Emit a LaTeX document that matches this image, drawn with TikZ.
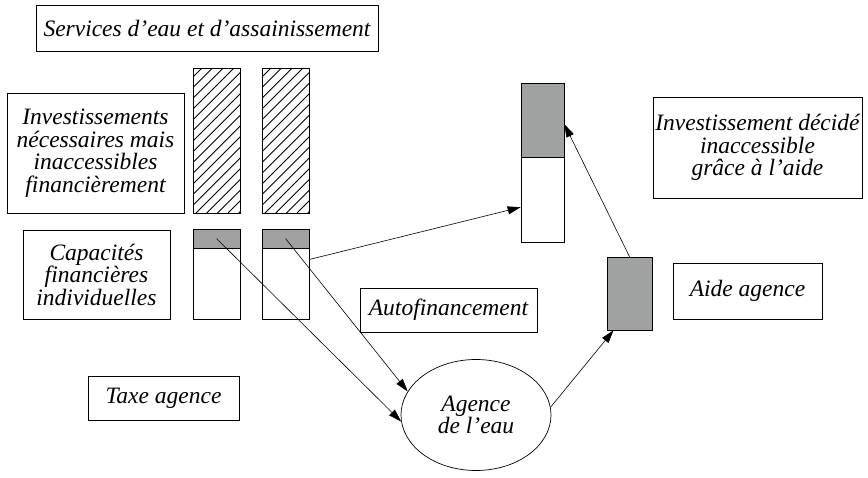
\documentclass[tikz,border=0pt]{standalone}
\usepackage{fontspec}
\setmainfont{Liberation Serif}
\usetikzlibrary{arrows.meta,shapes.geometric,calc}
\definecolor{barg}{RGB}{160,162,162}
\begin{document}
\begin{tikzpicture}[x=1pt,y=-1pt,
  lbl/.style={draw, line width=0.7pt, inner sep=0pt, align=center,
    font=\itshape\fontsize{23.5}{22.5}\selectfont},
  bar/.style={draw, line width=0.7pt, inner sep=0pt, rectangle},
  graybar/.style={bar, fill=barg},
  hatch/.style={bar, path picture={
    \foreach \k in {-16,...,5}{
      \draw[line width=0.9pt] ([xshift=\k*10.7pt+3pt]path picture bounding box.south west) -- ++(200pt,200pt);}}},
  arr/.style={line width=0.6pt, -{Triangle[length=13pt,width=8pt]}}
]
\useasboundingbox (0,0) rectangle (868,477);

% labels
\node[lbl, minimum width=342pt, minimum height=46pt] (title) at (207,28) {Services d’eau et d’assainissement};
\node[lbl, minimum width=177pt, minimum height=120pt] (inv) at (95.5,153) {Investissements\\nécessaires mais\\inaccessibles\\financièrement};
\node[lbl, minimum width=147pt, minimum height=89pt] (cap) at (96.5,274.5) {Capacités\\financières\\individuelles};
\node[lbl, minimum width=151pt, minimum height=44pt] (taxe) at (163.5,398) {Taxe agence};
\node[lbl, minimum width=177pt, minimum height=44pt] (auto) at (448.5,310) {Autofinancement};
\node[lbl, minimum width=209pt, minimum height=101pt] (dec) at (757.5,147.5) {Investissement décidé\\inaccessible\\grâce à l’aide};
\node[lbl, minimum width=149pt, minimum height=56pt] (aidel) at (747.5,291) {Aide agence};

% hatched bars
\node[hatch, minimum width=47pt, minimum height=145pt] (h1) at (216.5,140.5) {};
\node[hatch, minimum width=47pt, minimum height=145pt] (h2) at (285.5,140.5) {};

% lower bars
\node[bar, minimum width=47pt, minimum height=90pt] (b1) at (216.5,274) {};
\node[graybar, minimum width=47pt, minimum height=19pt] (g1) at (216.5,238.5) {};
\node[bar, minimum width=47pt, minimum height=90pt] (b2) at (285.5,274) {};
\node[graybar, minimum width=47pt, minimum height=19pt] (g2) at (285.5,238.5) {};

% right bar
\node[bar, minimum width=43pt, minimum height=159pt] (R) at (542.5,162.5) {};
\node[graybar, minimum width=43pt, minimum height=74pt] (Rg) at (542.5,120) {};

% aide bar
\node[graybar, minimum width=45pt, minimum height=73pt] (A) at (629.5,293.5) {};

% ellipse
\node[ellipse, draw, line width=0.7pt, inner sep=0pt, minimum width=150pt, minimum height=111pt,
  align=center, font=\itshape\fontsize{23.5}{22.5}\selectfont] (ell) at (476,415) {Agence\\de l’eau};

% connector end points
\coordinate (b2out) at ($(b2.north east)!0.34!(b2.south east)$);
\coordinate (Rin) at ($(R.north west)!0.78!(R.south west)$);
\coordinate (Ain) at ($(A.south west)!0.15!(A.south east)$);
\coordinate (Rgin) at ($(R.north east)!0.26!(R.south east)$);

\draw[arr] (g1.center) -- (ell.185);
\draw[arr] (g2.center) -- (ell.161);
\draw[arr] (b2out) -- (Rin);
\draw[arr] (ell.6) -- (Ain);
\draw[arr] (A.north) -- (Rgin);
\end{tikzpicture}
\end{document}
